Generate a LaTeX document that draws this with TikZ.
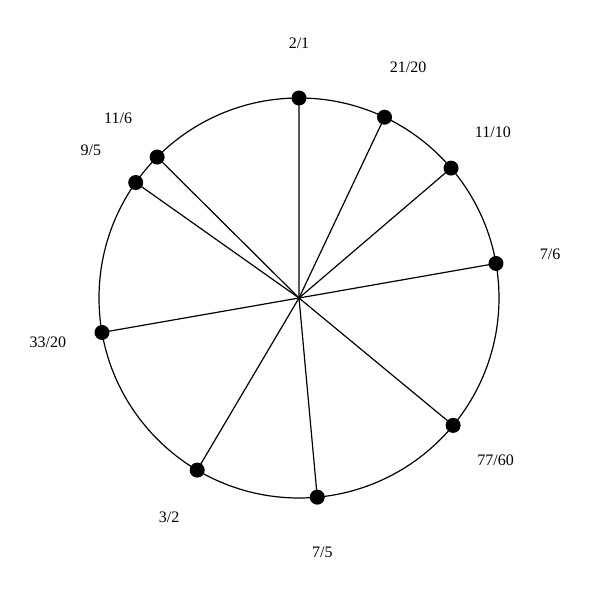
\documentclass[tikz,border=0pt]{standalone}
\usepackage{fontspec}
\setmainfont{Liberation Serif}
\usetikzlibrary{calc}
\tikzset{
  dot/.style={circle,fill=black,inner sep=0pt,minimum size=15pt},
  lab/.style={font=\fontsize{16}{18}\selectfont,inner sep=0pt},
  spoke/.style={line width=1.2pt},
  rim/.style={line width=1.2pt}
}
\begin{document}
\begin{tikzpicture}[x=1pt,y=1pt]
\useasboundingbox (0,0) rectangle (600,600);
\coordinate (c) at (299,302);
\draw[rim] (c) circle (200);
\foreach \name/\num/\den in {a/2/1,b/21/20,d/11/10,e/7/6,f/77/60,g/7/5,h/3/2,i/33/20,j/9/5,k/11/6}{
  \pgfmathsetmacro\ang{90-360*ln(\num/\den)/ln(2)}
  \draw[spoke] (c) -- ($(c)+(\ang:200)$);
  \node[dot] (p\name) at ($(c)+(\ang:200)$) {};
  \node[lab] (l\name) at ($(c)+(\ang:255)$) {\num/\den};
}
\end{tikzpicture}
\end{document}
